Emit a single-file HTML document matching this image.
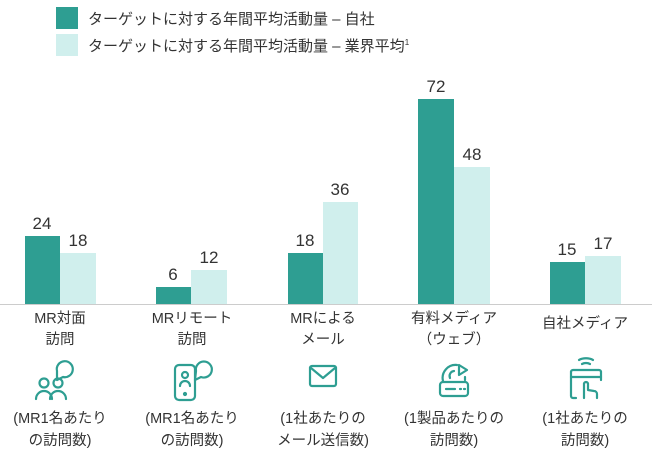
<!DOCTYPE html>
<html><head><meta charset="utf-8"><style>
body{margin:0;background:#fff;width:652px;height:460px;overflow:hidden;font-family:"Liberation Sans","Noto Sans CJK JP",sans-serif;color:#222}
</style></head><body>
<svg width="652" height="460" xmlns="http://www.w3.org/2000/svg" font-family="Liberation Sans, Noto Sans CJK JP, sans-serif">
<rect x="56" y="7" width="22" height="22" fill="#2e9e92"/>
<rect x="56" y="34" width="22" height="22" fill="#d0efed"/>
<text x="88" y="24" font-size="15" fill="#333">ターゲットに対する年間平均活動量 – 自社</text>
<text x="88" y="51" font-size="15" fill="#333">ターゲットに対する年間平均活動量 – 業界平均<tspan font-size="8" dy="-6">1</tspan></text>
<line x1="0" y1="304.5" x2="652" y2="304.5" stroke="#ccc" stroke-width="1"/>
<g fill="#2e9e92">
<rect x="25" y="236" width="35" height="68"/>
<rect x="156" y="287" width="35" height="17"/>
<rect x="288" y="253" width="35" height="51"/>
<rect x="418" y="99" width="36" height="205"/>
<rect x="550" y="262" width="35" height="42"/>
</g>
<g fill="#d0efed">
<rect x="60" y="253" width="36" height="51"/>
<rect x="191" y="270" width="36" height="34"/>
<rect x="323" y="202" width="35" height="102"/>
<rect x="454" y="167" width="36" height="137"/>
<rect x="585" y="256" width="36" height="48"/>
</g>
<g font-size="17" text-anchor="middle" fill="#333">
<text x="42" y="229">24</text><text x="78" y="246">18</text>
<text x="173" y="280">6</text><text x="209" y="263">12</text>
<text x="305" y="246">18</text><text x="340" y="195">36</text>
<text x="436" y="92">72</text><text x="472" y="160">48</text>
<text x="567" y="255">15</text><text x="603" y="249">17</text>
</g>
<g font-size="14.5" text-anchor="middle" fill="#333">
<text x="60" y="323">MR対面</text><text x="60" y="344">訪問</text>
<text x="192" y="323">MRリモート</text><text x="192" y="344">訪問</text>
<text x="323" y="323">MRによる</text><text x="323" y="344">メール</text>
<text x="454" y="323">有料メディア</text><text x="454" y="344">（ウェブ）</text>
<text x="585" y="328">自社メディア</text>
<text x="60" y="423">(MR1名あたり</text><text x="60" y="445">の訪問数)</text>
<text x="192" y="423">(MR1名あたり</text><text x="192" y="445">の訪問数)</text>
<text x="323" y="423">(1社あたりの</text><text x="323" y="445">メール送信数)</text>
<text x="454" y="423">(1製品あたりの</text><text x="454" y="445">訪問数)</text>
<text x="585" y="423">(1社あたりの</text><text x="585" y="445">訪問数)</text>
</g>
<g fill="none" stroke="#2e9e92" stroke-width="2.2" stroke-linecap="round" stroke-linejoin="round">
<!-- icon1 -->
<circle cx="44" cy="383" r="4.5"/><path d="M36 399 a8 8 0 0 1 16 0"/>
<circle cx="58" cy="383" r="4.5"/><path d="M50 399 a8 8 0 0 1 16 0"/>
<path d="M57 371 a8 8 0 1 1 6 6 l-6 3 z"/>
<!-- icon2 -->
<rect x="175" y="365" width="20" height="35" rx="4"/><circle cx="185" cy="375" r="3"/><path d="M180 386 a5 5 0 0 1 10 0"/><circle cx="185" cy="394" r="1" fill="#2e9e92"/>
<path d="M196 371 a8 8 0 1 1 5 6 l-6 3 z"/>
<!-- icon3 -->
<rect x="310" y="366" width="26" height="20" rx="2"/><path d="M311 368 l12 10 l12 -10"/>
<!-- icon4 -->
<rect x="440" y="382" width="28" height="14" rx="3"/><path d="M446 389 h9 M460 389 h1 M464 389 h1"/>
<path d="M443 381 a13 13 0 0 1 14 -16"/><path d="M450 378 a5 5 0 0 1 4 -7"/>
<path d="M459 365 l8 5 l-8 5 z"/><path d="M465 377 v3"/>
<!-- icon5 -->
<path d="M582 364 a6 4 0 0 1 8 0 M579 360 a10 6 0 0 1 14 0"/>
<path d="M576 398 h-3 a2 2 0 0 1 -2 -2 v-24 a2 2 0 0 1 2 -2 h26 a2 2 0 0 1 2 2 v8"/>
<path d="M571 377 h30"/>
<path d="M584 398 v-14 a2 2 0 0 1 4 0 v6 l6 1 a3 3 0 0 1 3 3 v4"/>
</g>
</svg>
</body></html>
